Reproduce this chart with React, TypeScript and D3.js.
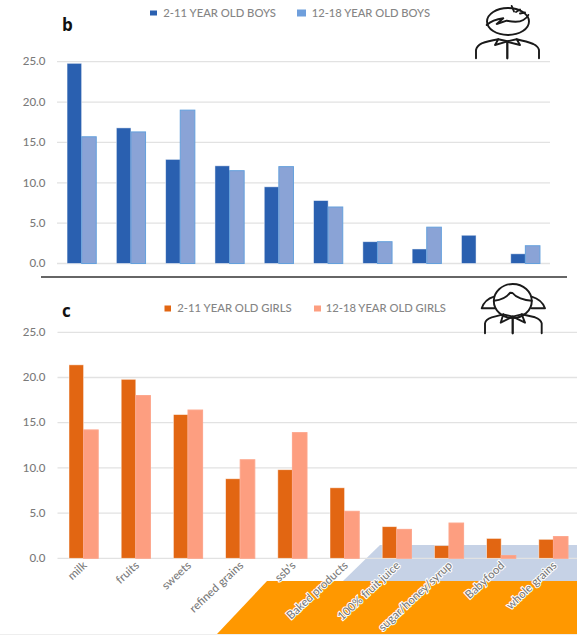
import React from "react";
import * as d3 from "d3";

const W = 577;
const H = 635;

const categories = ["milk", "fruits", "sweets", "refined grains", "ssb's", "Baked products", "100% fruit juice", "sugar/honey/syrup", "Babyfood", "whole grains"];
const yTicks = [0, 5, 10, 15, 20, 25];

const boysYoung = [24.8, 16.8, 12.9, 12.1, 9.5, 7.8, 2.7, 1.8, 3.5, 1.2];
const boysOlder = [15.7, 16.3, 19.0, 11.5, 12.0, 7.0, 2.7, 4.5, 0, 2.2];
const girlsYoung = [21.4, 19.8, 15.9, 8.8, 9.8, 7.8, 3.5, 1.4, 2.2, 2.1];
const girlsOlder = [14.2, 18.0, 16.4, 10.9, 13.9, 5.2, 3.2, 3.9, 0.3, 2.4];

const FONT = "Lato, 'Open Sans', sans-serif";
const GREY = "#7a7a7a";
const GRID = "#e2e2e2";

type LegendEntry = { label: string; swatchX: number; swatchW: number; swatchH: number; textX: number; textW: number; color: string };

type PanelProps = {
  letter: string;
  letterY: number;
  young: number[];
  older: number[];
  youngColor: string;
  olderColor: string;
  olderEdge: string;
  x0: number;
  x1: number;
  gridEnd: number;
  y0: number;
  y25: number;
  legendY: number;
  legend: LegendEntry[];
  showCategories?: boolean;
};

function Panel(p: PanelProps) {
  const x = d3.scaleBand<string>().domain(categories).range([p.x0, p.x1]);
  const y = d3.scaleLinear().domain([0, 25]).range([p.y0, p.y25]);
  const barW = 14.6;
  return (
    <g fontFamily={FONT}>
      <text x={62} y={p.letterY} fontSize={17} fontWeight={700} fill="#111" fontFamily="'Open Sans', sans-serif">{p.letter}</text>
      {yTicks.map((t) => (
        <g key={t}>
          <line x1={p.x0} x2={p.gridEnd} y1={y(t)} y2={y(t)} stroke={GRID} strokeWidth={1.3} />
          <text x={45.5} y={y(t)} dy="0.33em" textAnchor="end" fontSize={11.5} fontWeight={500} fill={GREY}>{t.toFixed(1)}</text>
        </g>
      ))}
      {categories.map((c, i) => {
        const cx = (x(c) as number) + x.bandwidth() / 2;
        const youngTop = y(p.young[i]);
        const olderTop = y(p.older[i]);
        return (
          <g key={c}>
            {p.young[i] > 0 && (
              <rect x={cx - barW} y={youngTop} width={barW} height={p.y0 - youngTop} fill={p.youngColor} stroke="#ffffff" strokeOpacity={0.6} strokeWidth={0.8} />
            )}
            {p.older[i] > 0 && (
              <rect x={cx} y={olderTop} width={barW} height={p.y0 - olderTop} fill={p.olderColor} stroke={p.olderEdge} strokeWidth={1} />
            )}
          </g>
        );
      })}
      {p.showCategories && categories.map((c) => {
        const cx = (x(c) as number) + x.bandwidth() / 2;
        return (
          <text
            key={c}
            transform={`translate(${cx + 4},${p.y0 + 8}) rotate(-43)`}
            textAnchor="end"
            fontSize={11.5}
            fontWeight={500}
            fill={GREY}
            stroke="#ffffff"
            strokeWidth={2}
            paintOrder="stroke"
          >{c}</text>
        );
      })}
      {p.legend.map((l) => (
        <g key={l.label}>
          <rect x={l.swatchX} y={p.legendY - l.swatchH / 2} width={l.swatchW} height={l.swatchH} fill={l.color} />
          <text
            x={l.textX}
            y={p.legendY}
            dy="0.35em"
            fontSize={10.5}
            fontWeight={500}
            fill="#858585"
            textLength={l.textW}
            lengthAdjust="spacingAndGlyphs"
          >{l.label}</text>
        </g>
      ))}
    </g>
  );
}

// Outline busts placed beside each legend.
function BoyIcon() {
  return (
    <g fill="none" stroke="#1a1a1a" strokeWidth={1.9} strokeLinecap="round" strokeLinejoin="round">
      <ellipse cx={508} cy={21.5} rx={21} ry={13.5} />
      <path d="M486.7,25 C491,21 498,19 503.3,18.3 L496.7,24 L506.7,20.7 C513,22 520,22 523.3,20 C526,18.5 527.5,17 528.3,15" />
      <path d="M511.7,6 L514,11.5 M520,9.5 L516,12 M525,12.5 L520,13.5" />
      <path d="M476,58.3 V50 C476.5,47 478.5,45 481.7,43.3 C487,41.5 493,40.3 498.3,39.3 L495,45 L506.7,41.7 L520,45 L516.7,39.3 C522,40.5 528,42 533.3,44 C536.5,45.5 538.5,47.5 539,50 V58.3" />
      <path d="M498.3,39.3 L507.3,41.3 L516.7,39.3" />
      <path d="M507.3,41.7 V58.3" strokeWidth={2.3} />
    </g>
  );
}

function GirlIcon() {
  return (
    <g fill="none" stroke="#1a1a1a" strokeWidth={1.9} strokeLinecap="round" strokeLinejoin="round">
      <ellipse cx={512.8} cy={301} rx={19} ry={17} />
      <path d="M494,300.7 C501,300 507,297 510,292.7 L512.5,293 C516,297.5 524,300.5 531.7,300.7" />
      <path d="M494,296.7 C488,298.5 483.5,303 481.7,308.3 L495,308.3" />
      <path d="M531.7,296.7 C538,298.5 543,303 545,308.3 L531.7,308.3" />
      <path d="M485,333.3 V323.3 C485.5,320.5 488,318.5 491.7,317.3 L503.3,314.3 L500.7,322.7 L512.7,316.7 L525,322.7 L521.7,314.3 L535,317.3 C538.5,318.5 541,320.5 541.7,323.3 V333.3" />
      <path d="M503.3,314.3 L512.7,316.7 L521.7,314.3" />
      <path d="M512.7,316.7 V333.3" strokeWidth={2.3} />
    </g>
  );
}

export default function App() {
  return (
    <svg
      width={W}
      height={H}
      viewBox={`0 0 ${W} ${H}`}
      style={{ position: "absolute", left: 0, top: 0, display: "block", background: "#ffffff" }}
    >
      <polygon points={`343,581 380,545 ${W},545 ${W},581`} fill="#c6d2e6" />
      <polygon points={`217,634 267,581 ${W},581 ${W},634`} fill="#ff9800" />
      <line x1={0} x2={W} y1={634.5} y2={634.5} stroke="#eeeeee" strokeWidth={1} />
      <Panel
        letter="b"
        letterY={31}
        young={boysYoung}
        older={boysOlder}
        youngColor="#2a60b0"
        olderColor="#8aa3d6"
        olderEdge="#64a0dc"
        x0={57}
        x1={550}
        gridEnd={550}
        y0={263.5}
        y25={61.7}
        legendY={13}
        legend={[
          { label: "2-11 YEAR OLD BOYS", swatchX: 150, swatchW: 7, swatchH: 5, textX: 163.3, textW: 112.7, color: "#2a60b0" },
          { label: "12-18 YEAR OLD BOYS", swatchX: 297, swatchW: 9, swatchH: 7, textX: 311.7, textW: 118.3, color: "#6f9fdc" },
        ]}
      />
      <line x1={41} x2={567} y1={277} y2={277} stroke="#333" strokeWidth={1.4} />
      <Panel
        letter="c"
        letterY={317}
        young={girlsYoung}
        older={girlsOlder}
        youngColor="#e26612"
        olderColor="#fd9e80"
        olderEdge="#fda58a"
        x0={57.5}
        x1={579.5}
        gridEnd={577}
        y0={558.3}
        y25={332.3}
        legendY={308.5}
        legend={[
          { label: "2-11 YEAR OLD GIRLS", swatchX: 164.5, swatchW: 6.5, swatchH: 6, textX: 177.3, textW: 114.4, color: "#e26612" },
          { label: "12-18 YEAR OLD GIRLS", swatchX: 314, swatchW: 7, swatchH: 6, textX: 325.7, textW: 120.3, color: "#fd9e80" },
        ]}
        showCategories
      />
      <BoyIcon />
      <GirlIcon />
    </svg>
  );
}
